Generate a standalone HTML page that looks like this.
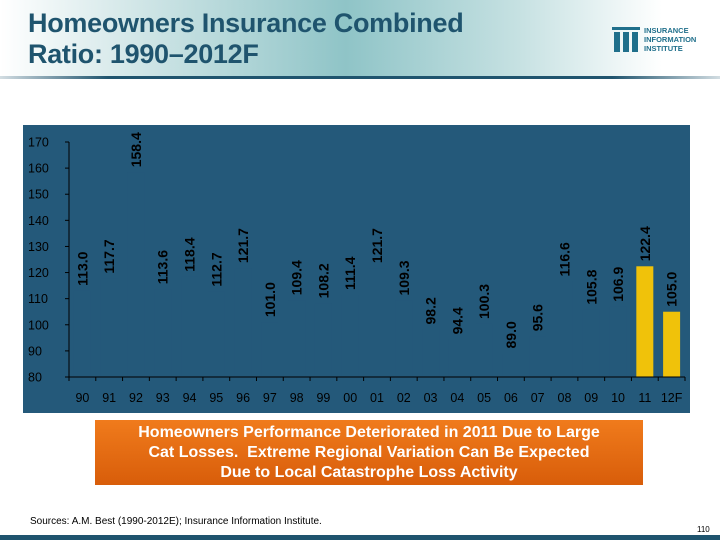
<!DOCTYPE html>
<html><head><meta charset="utf-8">
<style>
body{margin:0;width:720px;height:540px;overflow:hidden;background:#fff;font-family:"Liberation Sans",sans-serif;position:relative}
#hdr{position:absolute;left:0;top:0;width:720px;height:76px;background:linear-gradient(90deg,#fff 0%,#cfe5e6 20%,#8fc4c7 48%,#c6e1e2 72%,#fff 92%)}
#hdrline{position:absolute;left:0;top:76px;width:720px;height:3px;background:linear-gradient(90deg,rgba(31,84,110,0.2),#1f546e 15%,#1f546e 85%,rgba(31,84,110,0.2))}
#title{position:absolute;left:28px;top:8px;font-size:27px;font-weight:bold;color:#1f546e;line-height:31px;letter-spacing:-0.3px}
#logo{position:absolute;left:612px;top:26px}
#logo .t{position:absolute;left:32px;top:0;font-size:7.5px;font-weight:bold;color:#1f6f8b;line-height:9px;white-space:nowrap}
#callout{position:absolute;left:95px;top:420px;width:548px;height:65px;background:linear-gradient(#f07b1c,#d85d0a);color:#fff;font-weight:bold;font-size:16px;line-height:20px;text-align:center;padding-top:3px;box-sizing:border-box}
#src{position:absolute;left:30px;top:516px;font-size:10px;color:#000}
#pg{position:absolute;left:697px;top:525px;font-size:8px}
#foot{position:absolute;left:0;top:535px;width:720px;height:5px;background:#1f546e}
</style></head><body>
<div id="hdr"></div>
<div id="hdrline"></div>
<div id="title">Homeowners Insurance Combined<br>Ratio: 1990–2012F</div>
<div id="logo">
<svg width="30" height="26" viewBox="0 0 30 26"><g fill="#1f6f8b"><rect x="2" y="6" width="6" height="20"/><rect x="11" y="6" width="6" height="20"/><rect x="20" y="6" width="6" height="20"/><rect x="0" y="1" width="28" height="3"/></g></svg>
<div class="t">INSURANCE<br>INFORMATION<br>INSTITUTE</div></div>
<svg id="chart" width="720" height="540" style="position:absolute;left:0;top:0">
<rect x="23" y="125" width="667" height="288" fill="#24597a"/>
<g id="g"></g>
</svg>
<div id="callout">Homeowners Performance Deteriorated in 2011 Due to Large<br>Cat Losses.&nbsp; Extreme Regional Variation Can Be Expected<br>Due to Local Catastrophe Loss Activity</div>
<div id="src">Sources: A.M. Best (1990-2012E); Insurance Information Institute.</div>
<div id="pg">110</div>
<div id="foot"></div>
<script>
const categories=["90","91","92","93","94","95","96","97","98","99","00","01","02","03","04","05","06","07","08","09","10","11","12F"];
const values=[113.0,117.7,158.4,113.6,118.4,112.7,121.7,101.0,109.4,108.2,111.4,121.7,109.3,98.2,94.4,100.3,89.0,95.6,116.6,105.8,106.9,122.4,105.0];
const highlighted=[false,false,false,false,false,false,false,false,false,false,false,false,false,false,false,false,false,false,false,false,false,true,true];
const yTicks=[80,90,100,110,120,130,140,150,160,170];
const NS="http://www.w3.org/2000/svg";
const g=document.getElementById('g');
const x0=69,x1=685,yMin=80,yMax=170,py0=377,py1=142;
const slot=(x1-x0)/categories.length;
const y=v=>py0-(v-yMin)/(yMax-yMin)*(py0-py1);
const xc=i=>x0+slot*(i+0.5);
function mk(t,a){const e=document.createElementNS(NS,t);for(const k in a)e.setAttribute(k,a[k]);g.appendChild(e);return e;}
values.forEach((v,i)=>{
  const b=mk('rect',{x:xc(i)-8.5,y:y(v),width:17,height:y(yMin)-y(v),fill:highlighted[i]?'#f0c20a':'#24597a'});
  
  
  const tx=xc(i)+5,ty=y(v)-5;
  const t=mk('text',{x:tx,y:ty,transform:`rotate(-90 ${tx} ${ty})`,'font-size':14,'font-weight':'bold',fill:'#000','font-family':'Liberation Sans, sans-serif'});
  t.textContent=v.toFixed(1);
  
  
  const c=mk('text',{x:xc(i),y:402,'text-anchor':'middle','font-size':12.5,fill:'#000','font-family':'Liberation Sans, sans-serif'});
  c.textContent=categories[i];
  
  
});
const ax=mk('line',{x1:x0,y1:py1,x2:x0,y2:py0,stroke:'#000','stroke-width':1});


const bx=mk('line',{x1:x0,y1:py0,x2:x1,y2:py0,stroke:'#000','stroke-width':1});


for(let i=0;i<=categories.length;i++){mk('line',{x1:x0+slot*i,y1:py0,x2:x0+slot*i,y2:py0+4,stroke:'#000'});}
yTicks.forEach(v=>{
  mk('line',{x1:x0-4,y1:y(v),x2:x0,y2:y(v),stroke:'#000'});
  const t=mk('text',{x:28,y:y(v)+4.5,'font-size':12.5,fill:'#000','font-family':'Liberation Sans, sans-serif'});
  t.textContent=v;
  
  
});
</script>
</body></html>
